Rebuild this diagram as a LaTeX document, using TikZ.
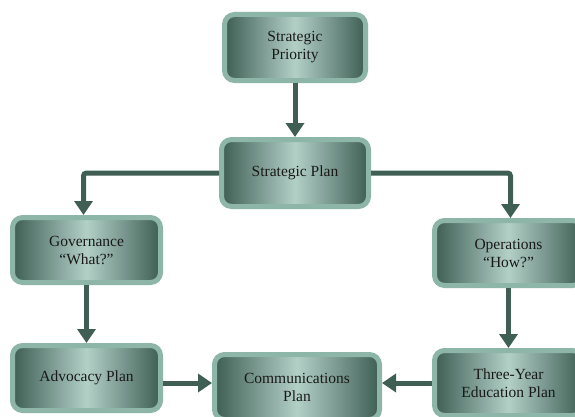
\documentclass[tikz,border=0pt]{standalone}
\usepackage{fontspec}
\setmainfont{Liberation Serif}
\usetikzlibrary{arrows.meta}
\definecolor{boxdark}{HTML}{3E5E54}
\definecolor{boxlight}{HTML}{B3D0C7}
\definecolor{boxline}{HTML}{8DB6A9}
\definecolor{arrowcol}{HTML}{3F5E54}
\tikzset{
  planbox/.style={rounded corners=10pt, draw=boxline, line width=5pt,
    left color=boxdark, right color=boxdark, middle color=boxlight,
    minimum width=148pt, minimum height=65pt, align=center,
    font=\fontsize{15.5}{18}\selectfont, text=black!90},
  flow/.style={draw=arrowcol, line width=5pt,
    -{Triangle[width=18pt,length=14pt]}}
}
\begin{document}
\begin{tikzpicture}[x=1pt,y=1pt]
\useasboundingbox (0,0) rectangle (575,416);
\clip (0,0) rectangle (575,416);
\fill[white] (0,0) rectangle (575,416);

\node[planbox, minimum width=141pt, minimum height=66pt] (prio) at (295,368.5) {Strategic\\Priority};
\node[planbox, minimum width=147pt, minimum height=67pt] (plan) at (295,243) {Strategic Plan};
\node[planbox] (gov) at (86.5,166) {Governance\\``What?''};
\node[planbox] (ops) at (508.5,163) {Operations\\``How?''};
\node[planbox] (adv) at (86.5,38) {Advocacy Plan};
\node[planbox] (three) at (508.5,33) {Three-Year\\Education Plan};
\node[planbox, minimum width=165pt] (comm) at (297,29) {Communications\\Plan};

\draw[flow] (prio) -- (plan);
\draw[flow, rounded corners=3pt] (plan.west) -| ([xshift=-3pt]gov.north);
\draw[flow, rounded corners=3pt] (plan.east) -| ([xshift=2pt]ops.north);
\draw[flow] (gov) -- (adv);
\draw[flow] (ops) -- (three);
\draw[flow] (adv.east |- three.west) -- (comm.west |- three.west);
\draw[flow] (three.west) -- (comm.east |- three.west);
\end{tikzpicture}
\end{document}
